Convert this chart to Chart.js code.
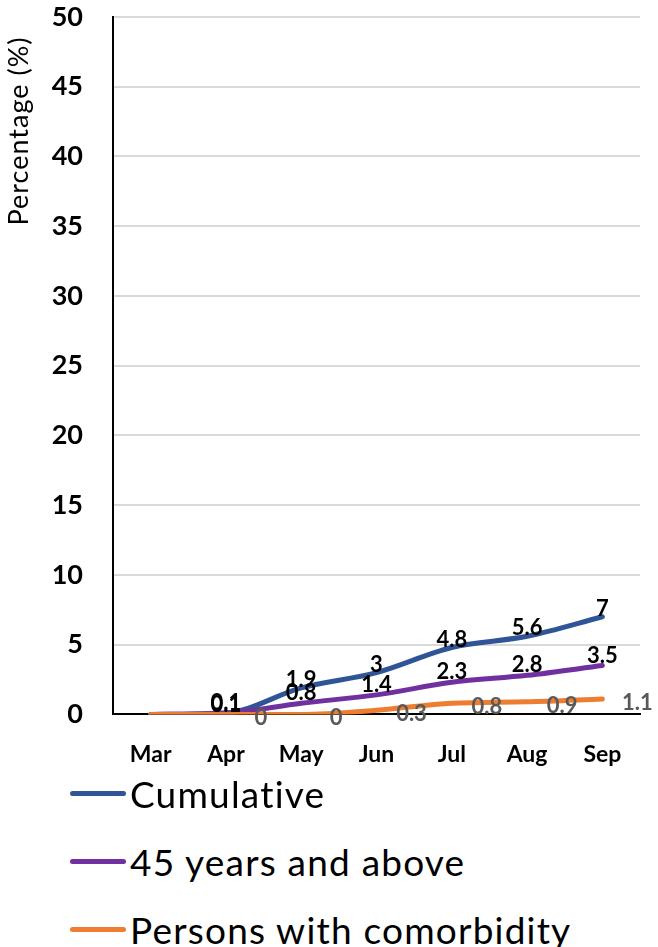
<!DOCTYPE html>
<html>
<head>
<meta charset="utf-8">
<script src="https://cdn.jsdelivr.net/npm/chart.js@4.4.0/dist/chart.umd.min.js"></script>
<style>
html, body { margin: 0; padding: 0; background: #fff; }
#wrap { position: relative; width: 658px; height: 947px; overflow: hidden; }
#box { position: absolute; left: 0; top: 0; width: 658px; height: 798px; }
.item { position: absolute; left: 70px; height: 50px; display: flex; align-items: center; }
.swatch { width: 56px; height: 5px; border-radius: 3px; }
.txt { font: 37px Lato, sans-serif; color: #000; margin-left: 4px; white-space: nowrap; letter-spacing: 1.2px; }
</style>
</head>
<body>
<div id="wrap">
  <div id="box"><canvas id="chart"></canvas></div>
  <div id="legend"></div>
</div>
<script>
// chart data
const months = ["Mar", "Apr", "May", "Jun", "Jul", "Aug", "Sep"];
const cumulative = [0, 0.1, 1.9, 3, 4.8, 5.6, 7];
const aged45 = [0, 0.1, 0.8, 1.4, 2.3, 2.8, 3.5];
const comorbid = [0, 0, 0, 0.3, 0.8, 0.9, 1.1];
const yTicks = [0, 5, 10, 15, 20, 25, 30, 35, 40, 45, 50];

// label look per series (colour, offset from the point)
const labelStyle = [
    { color: "#000000", dx: 0, dy: -8 },
    { color: "#000000", dx: 0, dy: -10 },
    { color: "#595959", dx: 35, dy: 4 }
];

// draws the value next to each point, like excel data labels
const pointLabels = {
    id: "pointLabels",
    afterDatasetsDraw(chart) {
        const ctx = chart.ctx;
        chart.data.datasets.forEach((ds, i) => {
            const meta = chart.getDatasetMeta(i);
            const st = labelStyle[i];
            ctx.save();
            ctx.font = "bold 22px Lato";
            ctx.fillStyle = st.color;
            ctx.textAlign = "center";
            ctx.textBaseline = "middle";
            meta.data.forEach((pt, j) => {
                if (j === 0) return; // no label on the first month
                ctx.fillText(String(ds.data[j]), pt.x + st.dx, pt.y + st.dy);
            });
            ctx.restore();
        });
    }
};

// y title sits near the top of the axis, spaced out a bit
const yTitle = {
    id: "yTitle",
    afterDraw(chart) {
        const ctx = chart.ctx;
        ctx.save();
        ctx.translate(19, 131);
        ctx.rotate(-Math.PI / 2);
        ctx.font = "27px Lato";
        ctx.letterSpacing = "1px";
        ctx.fillStyle = "#000";
        ctx.textAlign = "center";
        ctx.textBaseline = "middle";
        ctx.fillText("Percentage (%)", 0, 0);
        ctx.restore();
    }
};

function makeSet(label, data, color, order) {
    return {
        label: label,
        data: data,
        borderColor: color,
        backgroundColor: color,
        borderWidth: 5,
        borderCapStyle: "round",
        pointRadius: 0,
        pointHoverRadius: 0,
        tension: 0.3,
        cubicInterpolationMode: "monotone",
        order: order
    };
}

const chart = new Chart(document.getElementById("chart"), {
    type: "line",
    data: {
        labels: months,
        datasets: [
            makeSet("Cumulative", cumulative, "#2F5597", 3),
            makeSet("45 years and above", aged45, "#7030A0", 2),
            makeSet("Persons with comorbidity", comorbid, "#ED7D31", 1)
        ]
    },
    options: {
        responsive: true,
        maintainAspectRatio: false,
        animation: false,
        layout: { padding: { top: 17, right: 18, bottom: 4, left: 0 } },
        plugins: {
            legend: { display: false },
            tooltip: { enabled: false }
        },
        scales: {
            x: {
                offset: true,
                grid: { display: false, drawTicks: false },
                border: { color: "#000", width: 2 },
                afterFit: (s) => { s.paddingLeft = 0; s.paddingRight = 0; },
                ticks: {
                    padding: 26,
                    color: "#000",
                    font: { family: "Lato", size: 23, weight: "bold" }
                }
            },
            y: {
                min: 0,
                max: 50,
                afterBuildTicks: (s) => { s.ticks = yTicks.map(v => ({ value: v })); },
                afterFit: (s) => { s.width = 113; s.paddingTop = 0; s.paddingBottom = 0; },
                grid: {
                    drawTicks: false,
                    lineWidth: 2,
                    color: (c) => c.tick && c.tick.value === 0 ? "#000" : "#D9D9D9"
                },
                border: { color: "#000", width: 2 },
                ticks: {
                    padding: 30,
                    color: "#000",
                    font: { family: "Lato", size: 27, weight: "bold" }
                }
            }
        }
    },
    plugins: [pointLabels, yTitle]
});

// legend, one row per series
const legendTops = [768, 836, 904];
const legend = document.getElementById("legend");
chart.data.datasets.forEach((ds, i) => {
    const row = document.createElement("div");
    row.className = "item";
    row.style.top = legendTops[i] + "px";
    row.innerHTML = '<div class="swatch" style="background:' + ds.borderColor + '"></div>' +
        '<span class="txt">' + ds.label + '</span>';
    legend.appendChild(row);
});
</script>
</body>
</html>
